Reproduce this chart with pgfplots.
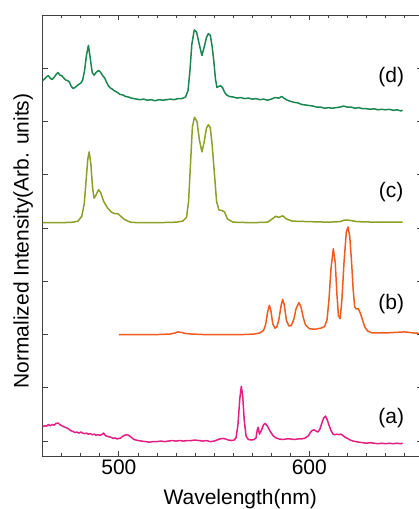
\documentclass[border=0pt]{standalone}
\usepackage{fontspec}
\setmainfont{Liberation Sans}
\usepackage{pgfplots}
\pgfplotsset{compat=1.18}
\definecolor{cA}{RGB}{226,32,132}
\definecolor{cB}{RGB}{240,92,30}
\definecolor{cC}{RGB}{140,160,40}
\definecolor{cD}{RGB}{26,134,82}
\newcommand{\bigf}{\fontsize{21}{25}\selectfont}
\begin{document}
\begin{tikzpicture}
\begin{axis}[name=ax,
  width=379pt, height=441pt, scale only axis,
  xmin=460, xmax=659, ymin=-0.28, ymax=8,
  xtick={500,600}, minor xtick={470,480,...,650},
  ytick={0,1,...,7}, yticklabels={},
  tick align=inside, major tick length=5pt, minor tick length=3pt,
  axis line style={black!75, line width=0.8pt},
  every tick/.style={black!75, line width=0.8pt},
  /pgf/number format/assume math mode=true,
  tick label style={font=\bigf},
  xlabel={Wavelength(nm)}, ylabel={Normalized Intensity(Arb. units)},
  label style={font=\bigf},
  xlabel style={at={(axis description cs:0.5,0)}, anchor=base, yshift=-48pt, xshift=8pt},
  ylabel style={at={(axis description cs:-0.037,0.4875)}, anchor=base},
  every axis plot/.append style={line width=1.5pt, line join=round},
]
% (a)
\addplot[cA] coordinates {
(460,0.27) (461,0.29) (462,0.28) (463,0.31) (464,0.29) (465,0.31) (466,0.30) (467,0.33) (468,0.34) (469,0.31) (470,0.29) (471,0.27) (472.5,0.25) (473.5,0.23) (474.5,0.20) (476,0.18) (477,0.16) (478,0.17) (479,0.15) (480,0.17) (481,0.15) (482,0.14) (483,0.15) (484,0.13) (485,0.14) (486,0.12) (487,0.13) (488,0.11) (489,0.12) (490,0.11) (491,0.12) (492,0.15) (493,0.10) (494,0.09) (495,0.08) (496,0.07) (497,0.05) (498,0.06) (499,0.04) (500,0.05) (501,0.06) (502,0.09) (503,0.11) (504.5,0.12) (505.5,0.10) (506.5,0.07) (508,0.03) (509,0.02) (510,0.01) (512,0.00) (514,-0.01) (516,-0.02) (518,-0.01) (520,-0.01) (522,0.00) (524,-0.01) (526,0.00) (528,0.01) (530,0.00) (532,0.01) (534,0.00) (536,0.01) (538,0.01) (540,0.02) (542,0.01) (544,0.00) (546,0.01) (548,-0.01) (550,0.00) (551.5,0.02) (553,0.04) (554.5,0.05) (556,0.04) (557.5,0.02) (559,0.01) (560.5,0.02) (561.5,0.06) (562.5,0.30) (563.5,0.80) (564.3,1.03) (565,0.85) (565.8,0.40) (566.8,0.09) (568,0.03) (569.5,0.02) (571,0.03) (572,0.06) (572.7,0.22) (573.2,0.26) (573.8,0.13) (574.8,0.20) (576,0.31) (576.8,0.33) (578,0.28) (579.5,0.18) (581,0.10) (582.5,0.06) (584,0.04) (586,0.03) (588,0.04) (590,0.04) (592,0.03) (594,0.04) (596,0.04) (598,0.06) (599.5,0.10) (600.5,0.16) (601.5,0.20) (602.5,0.21) (603.5,0.19) (604.5,0.17) (605.5,0.22) (606.5,0.33) (607.5,0.43) (608.5,0.47) (609.5,0.39) (610.5,0.28) (611.5,0.19) (612.5,0.13) (613.5,0.12) (614.5,0.13) (615.5,0.12) (616.5,0.13) (617.5,0.11) (618.5,0.08) (620,0.05) (621.5,0.02) (623,0.00) (624.5,-0.01) (626,-0.02) (628,-0.03) (630,-0.04) (632,-0.03) (634,-0.04) (636,-0.05) (638,-0.04) (640,-0.05) (642,-0.04) (644,-0.05) (646,-0.04) (648,-0.05) (649,-0.04)
};
% (b)
\addplot[cB] coordinates {
(500,2.00) (510,2.00) (520,2.00) (527,2.01) (529.5,2.03) (531,2.05) (533,2.04) (535,2.02) (538,2.01) (545,2.00) (555,2.00) (565,2.00) (571,2.01) (574,2.03) (576,2.08) (577,2.18) (578,2.40) (579,2.55) (579.8,2.45) (580.8,2.20) (582,2.12) (583,2.15) (584,2.28) (585.2,2.55) (586,2.66) (586.8,2.56) (588,2.26) (589.3,2.16) (590.5,2.17) (591.8,2.28) (593,2.48) (594.5,2.60) (595.6,2.52) (596.8,2.32) (598,2.18) (600,2.11) (603,2.10) (606,2.12) (608,2.15) (609.3,2.28) (610.3,2.65) (611.4,3.25) (612.6,3.61) (613.6,3.35) (614.5,2.75) (615.3,2.35) (616.2,2.30) (617.1,2.65) (618.2,3.35) (619.4,3.92) (620.3,4.02) (621.2,3.85) (622.2,3.35) (623,2.85) (623.8,2.52) (624.7,2.48) (625.6,2.49) (626.5,2.43) (627.7,2.30) (629,2.15) (630.5,2.07) (633,2.03) (640,2.03) (645,2.04) (650,2.05) (655,2.03) (659,2.02)
};
% (c)
\addplot[cC] coordinates {
(460,4.10) (470,4.10) (476,4.11) (478.5,4.13) (480.5,4.22) (481.8,4.45) (482.8,4.90) (483.7,5.30) (484.4,5.43) (485.3,5.20) (486.2,4.75) (487,4.56) (488,4.62) (489.3,4.72) (490.5,4.66) (492,4.50) (494,4.38) (496,4.30) (497.8,4.27) (499.5,4.27) (501,4.22) (503,4.16) (506,4.11) (510,4.10) (520,4.10) (530,4.11) (533.5,4.13) (535.5,4.20) (536.6,4.50) (537.6,5.20) (538.6,5.90) (539.7,6.08) (541,6.00) (542.3,5.65) (543.6,5.43) (544.8,5.62) (546,5.88) (547,5.94) (548,5.88) (549,5.55) (550.2,5.00) (551.3,4.50) (552.5,4.34) (554,4.33) (555.5,4.30) (557,4.17) (560,4.11) (570,4.10) (578,4.11) (580.5,4.17) (582.3,4.22) (584,4.20) (586,4.23) (588,4.17) (591,4.13) (600,4.12) (610,4.11) (616,4.12) (618.5,4.15) (620,4.15) (622,4.14) (625,4.12) (635,4.11) (649,4.11)
};
% (d)
\addplot[cD] coordinates {
(460,6.77) (461,6.80) (462,6.84) (463,6.86) (464,6.81) (465,6.79) (466,6.83) (467,6.88) (468,6.92) (469,6.87) (470,6.86) (471,6.82) (472,6.78) (473,6.77) (474,6.74) (475,6.66) (476,6.62) (477,6.64) (478,6.67) (479,6.70) (480,6.72) (481,6.78) (482,6.96) (483,7.25) (484,7.43) (485,7.18) (486,6.92) (487,6.87) (488,6.92) (489.3,6.96) (490.3,6.93) (491.5,6.86) (492.5,6.82) (493.5,6.74) (494.5,6.67) (495.5,6.63) (496.5,6.61) (497.5,6.58) (498.5,6.56) (499.5,6.54) (500.5,6.51) (502,6.50) (503.5,6.47) (505,6.46) (506.5,6.44) (508,6.43) (509.5,6.42) (511,6.41) (513,6.42) (515,6.40) (517,6.41) (519,6.39) (521,6.41) (523,6.40) (525,6.41) (527,6.42) (529,6.41) (531,6.43) (533,6.43) (535,6.46) (536.3,6.58) (537.3,6.95) (538.3,7.45) (539.6,7.72) (540.8,7.68) (542.2,7.45) (543.6,7.24) (544.8,7.40) (546,7.58) (547,7.65) (548,7.62) (549,7.40) (549.8,7.15) (550.7,6.80) (551.5,6.64) (552.5,6.66) (553.5,6.67) (554.5,6.63) (555.5,6.55) (556.5,6.50) (558,6.47) (560,6.46) (562,6.44) (564,6.45) (566,6.43) (568,6.44) (570,6.42) (572,6.43) (574,6.41) (576,6.42) (578,6.40) (580,6.42) (582,6.45) (584,6.44) (585.5,6.47) (587,6.43) (588.5,6.40) (590,6.38) (592,6.36) (594,6.35) (596,6.32) (598,6.31) (600,6.30) (602,6.29) (604,6.27) (606,6.27) (608,6.25) (610,6.26) (612,6.25) (614,6.26) (616,6.27) (618,6.29) (620,6.27) (622,6.27) (624,6.25) (626,6.26) (628,6.24) (630,6.24) (632,6.23) (634,6.24) (636,6.22) (638,6.23) (640,6.22) (642,6.23) (644,6.21) (646,6.22) (648,6.20) (649,6.21)
};
\node[font=\bigf] at (axis cs:643,6.83) {(d)};
\node[font=\bigf] at (axis cs:643,4.67) {(c)};
\node[font=\bigf] at (axis cs:643,2.57) {(b)};
\node[font=\bigf] at (axis cs:643,0.44) {(a)};
\end{axis}
\pgfresetboundingbox
\useasboundingbox ([xshift=-42.7pt,yshift=-53pt]ax.south west) rectangle ([xshift=376.3pt,yshift=15pt]ax.north west);
\end{tikzpicture}
\end{document}
